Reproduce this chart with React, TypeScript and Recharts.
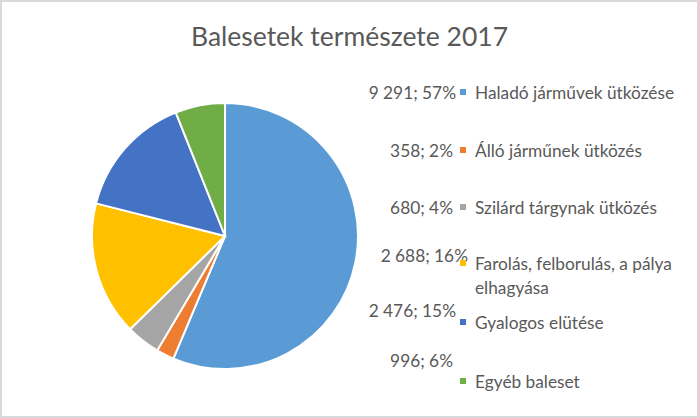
import React from 'react';
import { PieChart, Pie, Cell, Legend } from 'recharts';

const title = 'Balesetek természete 2017';
const categories = [
  'Haladó járművek ütközése',
  'Álló járműnek ütközés',
  'Szilárd tárgynak ütközés',
  'Farolás, felborulás, a pálya\nelhagyása',
  'Gyalogos elütése',
  'Egyéb baleset',
];
const values = [9291, 358, 680, 2688, 2476, 996];
const percentLabels = ['57%', '2%', '4%', '16%', '15%', '6%'];
const colors = ['#5B9BD5', '#ED7D31', '#A5A5A5', '#FFC000', '#4472C4', '#70AD47'];

const data = categories.map((name, i) => ({ name, value: values[i] }));

// layout of the legend rows (pixel positions)
const rowLayout = [
  { valueEnd: 456, valueY: 92, catY: 92 },
  { valueEnd: 453, valueY: 150, catY: 150 },
  { valueEnd: 453, valueY: 207, catY: 207 },
  { valueEnd: 468, valueY: 255, catY: 263 },
  { valueEnd: 456, valueY: 310, catY: 322 },
  { valueEnd: 453, valueY: 360, catY: 381 },
];

const W = 699;
const H = 418;
const FONT = 'Lato, "Open Sans", sans-serif';
const TEXT = '#595959';

const fmt = (v: number) => String(v).replace(/\B(?=(\d{3})+(?!\d))/g, ' ');

const renderLegend = () => {
  return (
    <svg width={W} height={H} style={{ position: 'absolute', left: 0, top: 0 }}>
      {categories.map((cat, i) => {
        const r = rowLayout[i];
        const lines = cat.split('\n');
        return (
          <g key={i} fontFamily={FONT} fontSize={17.3} fill={TEXT}>
            <text x={r.valueEnd} y={r.valueY} textAnchor="end" dominantBaseline="central">
              {`${fmt(values[i])}; ${percentLabels[i]}`}
            </text>
            <rect x={460} y={r.catY - 3} width={6} height={6} fill={colors[i]} />
            {lines.map((ln, j) => (
              <text key={j} x={475} y={r.catY + j * 24} dominantBaseline="central">
                {ln}
              </text>
            ))}
          </g>
        );
      })}
    </svg>
  );
};

export default function App() {
  return (
    <div style={{ position: 'fixed', left: 0, top: 0, width: W, height: H, background: '#fff' }}>
      <PieChart width={W} height={H} margin={{ top: 0, right: 0, bottom: 0, left: 0 }}>
        <text
          x={349.5}
          y={46}
          textAnchor="middle"
          fontFamily={FONT}
          fontSize={26.5}
          fill={TEXT}
        >
          {title}
        </text>
        <Pie
          data={data}
          dataKey="value"
          nameKey="name"
          cx={225}
          cy={236}
          outerRadius={133}
          startAngle={90}
          endAngle={-270}
          stroke="#fff"
          strokeWidth={2}
          isAnimationActive={false}
          label={false}
          labelLine={false}
        >
          {data.map((d, i) => (
            <Cell key={d.name} fill={colors[i]} />
          ))}
        </Pie>
        <Legend
          content={renderLegend}
          wrapperStyle={{ position: 'absolute', left: 0, top: 0, width: W, height: H, pointerEvents: 'none' }}
        />
      </PieChart>
      <div
        style={{
          position: 'absolute',
          left: 0,
          top: 0,
          width: W,
          height: H,
          boxSizing: 'border-box',
          border: '2px solid #d9d9d9',
          pointerEvents: 'none',
        }}
      />
    </div>
  );
}
